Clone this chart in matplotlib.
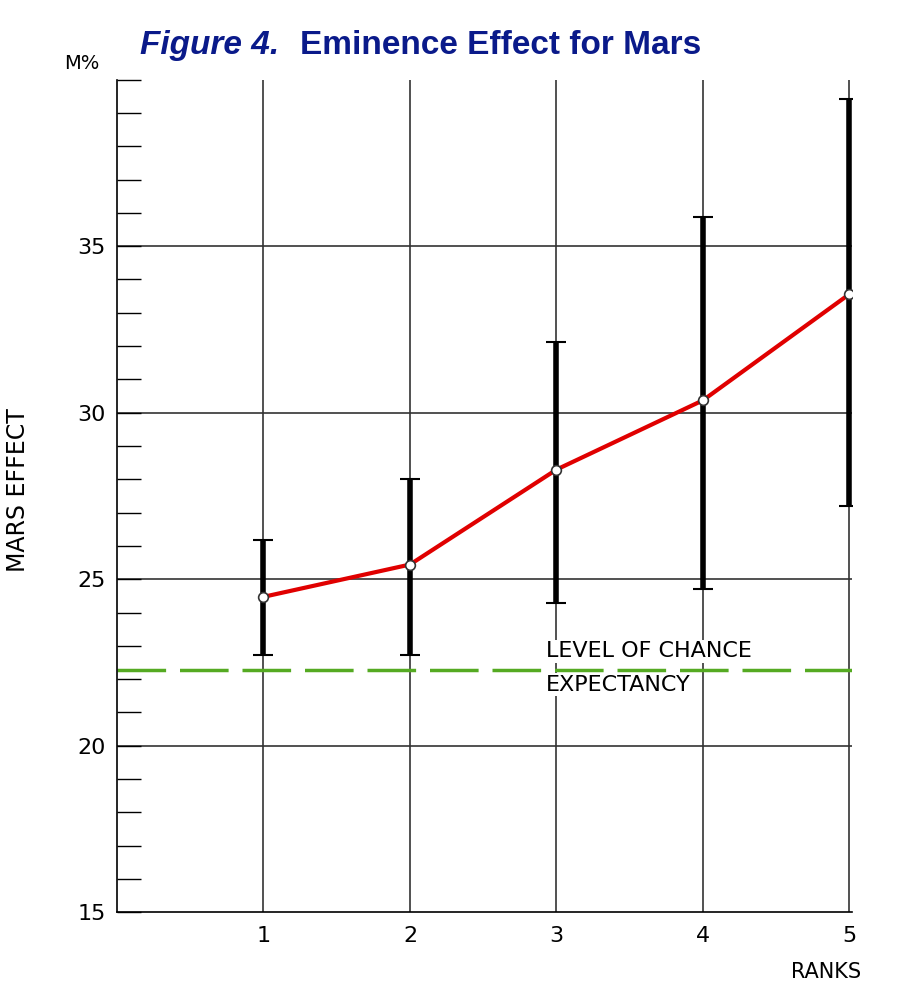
import matplotlib.pyplot as plt
from matplotlib.ticker import MultipleLocator

ranks = [1, 2, 3, 4, 5]
effect = [24.47, 25.44, 28.29, 30.37, 33.56]
err_hi = [26.19, 28.02, 32.11, 35.87, 39.42]
err_lo = [22.73, 22.73, 24.29, 24.71, 27.21]
chance = 22.28
yticks = [15, 20, 25, 30, 35]

fig = plt.figure(figsize=(9, 10.08), dpi=100)
ax = fig.add_axes([0.13, 0.095, 0.817, 0.826])
ax.set_xlim(0, 5.02)
ax.set_ylim(15, 40)
for x in ranks:
    ax.axvline(x, color='#333333', lw=1.2, zorder=1)
for y in yticks[1:]:
    ax.axhline(y, color='#333333', lw=1.2, zorder=1)
ax.axhline(chance, color='#55aa22', lw=2.5, dashes=(14, 4), zorder=2)
lo = [e - l for e, l in zip(effect, err_lo)]
hi = [h - e for e, h in zip(effect, err_hi)]
ax.errorbar(ranks, effect, yerr=[lo, hi], fmt='none', ecolor='black', elinewidth=4, capsize=7, capthick=1.5, zorder=3)
ax.plot(ranks, effect, color='#e00000', lw=3, zorder=4)
ax.plot(ranks, effect, 'o', ms=7, mfc='white', mec='#333333', mew=1.2, zorder=5)

ax.set_xticks(ranks)
ax.set_yticks(yticks)
ax.yaxis.set_minor_locator(MultipleLocator(1))
ax.tick_params(axis='y', which='both', direction='in', length=17, width=1, labelsize=16, pad=8)
ax.tick_params(axis='x', length=0, labelsize=16, pad=10)
for s in ['top', 'right']:
    ax.spines[s].set_visible(False)
for s in ['left', 'bottom']:
    ax.spines[s].set_linewidth(1.2)
ax.set_ylabel('MARS EFFECT', fontsize=17)
ax.yaxis.set_label_coords(-0.118, 0.507)
ax.text(4.6, 13.5, 'RANKS', fontsize=15, ha='left', va='top')
ax.text(-0.12, 40.2, 'M%', fontsize=14, ha='right', va='bottom')
ax.text(2.93, chance + 0.25, 'LEVEL OF CHANCE', fontsize=16, va='bottom', ha='left',
        bbox=dict(fc='white', ec='none', pad=1))
ax.text(2.93, chance - 0.15, 'EXPECTANCY', fontsize=16, va='top', ha='left',
        bbox=dict(fc='white', ec='none', pad=1))

tf = ['Liberation Sans', 'DejaVu Sans']
fig.text(0.155, 0.955, 'Figure 4.', fontsize=24, fontweight='bold', style='italic', color='#0a1a8a', va='center', family=tf)
fig.text(0.333, 0.955, 'Eminence Effect for Mars', fontsize=24, fontweight='bold', color='#0a1a8a', va='center', family=tf)
fig.savefig('out.png', dpi=100)
